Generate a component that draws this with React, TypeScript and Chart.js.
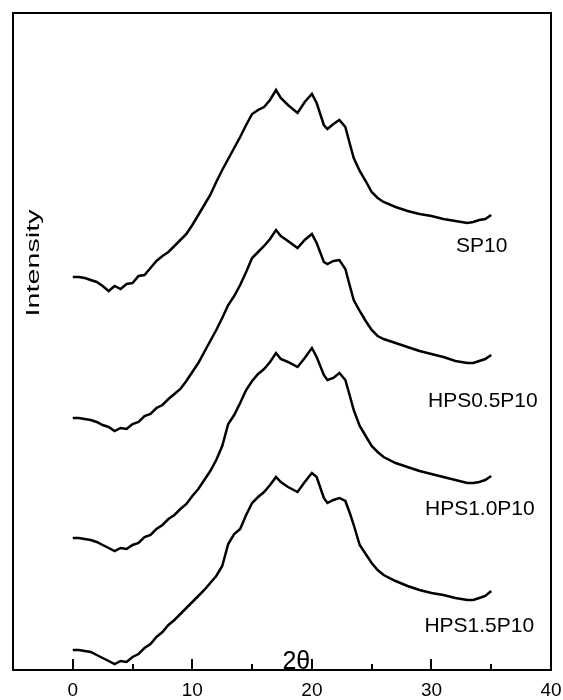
import React, { useEffect, useRef } from 'react';
import { Chart, registerables } from 'chart.js';

Chart.register(...registerables);

// 2θ positions (degrees) at which the patterns were read
const TWO_THETA = [
  0, 0.5, 1, 1.5, 2, 2.5, 3, 3.5, 4, 4.5,
  5, 5.5, 6, 6.5, 7, 7.5, 8, 8.5, 9, 9.5,
  10, 10.5, 11, 11.5, 12, 12.5, 13, 13.5, 14, 14.5,
  15, 15.5, 16, 16.5, 17, 17.4, 18, 18.8, 19.4, 20,
  20.4, 21, 21.3, 21.8, 22.3, 22.8, 23.2, 23.5, 24, 24.5,
  25, 25.5, 26, 27, 28, 29, 30, 31, 32, 33,
  33.5, 34, 34.5, 35,
];

// stacked intensities (arbitrary units, vertical offsets included)
const SP10 = [
  393, 393, 392, 390, 388, 384, 379, 384, 381, 386,
  387, 394, 395, 402, 409, 414, 418, 424, 430, 436,
  445, 455, 465, 475, 488, 500, 511, 522, 533, 545,
  556, 560, 563, 570, 580, 572, 565, 557, 568, 576,
  567, 545, 541, 546, 550, 543, 525, 512, 499, 489,
  478, 472, 468, 463, 459, 456, 454, 451, 449, 447,
  448, 450, 451, 455,
];
const HPS05P10 = [
  252, 252, 251, 250, 248, 245, 243, 239, 242, 241,
  246, 248, 254, 256, 262, 265, 271, 276, 281, 289,
  298, 307, 318, 329, 340, 352, 365, 374, 385, 398,
  412, 418, 424, 431, 440, 434, 429, 422, 430, 436,
  427, 408, 406, 409, 410, 401, 383, 370, 359, 349,
  340, 334, 331, 327, 323, 319, 316, 313, 309, 307,
  307, 309, 311, 315,
];
const HPS10P10 = [
  132, 132, 131, 130, 128, 125, 122, 119, 122, 121,
  125, 127, 133, 135, 141, 145, 151, 155, 161, 166,
  174, 181, 190, 199, 210, 224, 246, 255, 267, 280,
  289, 296, 301, 308, 317, 311, 308, 303, 312, 322,
  313, 295, 290, 292, 297, 290, 273, 260, 244, 234,
  224, 218, 213, 207, 203, 199, 196, 193, 190, 187,
  187, 188, 190, 194,
];
const HPS15P10 = [
  20, 20, 19, 18, 15, 12, 9, 6, 9, 8,
  13, 16, 22, 26, 33, 38, 45, 50, 56, 62,
  68, 74, 80, 87, 94, 104, 126, 136, 141, 155,
  167, 173, 178, 185, 193, 188, 183, 178, 188, 197,
  193, 172, 167, 170, 172, 169, 156, 145, 125, 116,
  107, 100, 95, 89, 84, 80, 77, 75, 72, 70,
  70, 72, 74, 79,
];

const SERIES_NAMES = ['SP10', 'HPS0.5P10', 'HPS1.0P10', 'HPS1.5P10'];
const SERIES_VALUES = [SP10, HPS05P10, HPS10P10, HPS15P10];

// label anchor points in data units
const LABEL_X = [34.2, 34.3, 34.05, 34.0];
const LABEL_Y = [424, 269, 161, 44];

const X_MIN = -5;
const X_MAX = 40;
const Y_MIN = 0;
const Y_MAX = 657;
const MAJOR_TICKS = [0, 10, 20, 30, 40];
const MINOR_TICKS = [5, 15, 25, 35];
const TICK_LABELS = ['0', '10', '20', '30', '40'];

const X_TITLE = '2θ';
const Y_TITLE = 'Intensity';

const FONT = '"Liberation Sans", Arial, Helvetica, sans-serif';

const decorPlugin = {
  id: 'decor',
  afterDraw(chart: any) {
    const { ctx, chartArea: a, scales } = chart;
    const x = scales.x;
    const y = scales.y;
    ctx.save();
    ctx.strokeStyle = '#000';
    ctx.lineWidth = 2;
    ctx.strokeRect(a.left, a.top, a.right - a.left, a.bottom - a.top);

    ctx.beginPath();
    MAJOR_TICKS.forEach((v) => {
      const px = Math.round(x.getPixelForValue(v));
      ctx.moveTo(px, a.bottom);
      ctx.lineTo(px, a.bottom - 11);
    });
    MINOR_TICKS.forEach((v) => {
      const px = Math.round(x.getPixelForValue(v));
      ctx.moveTo(px, a.bottom);
      ctx.lineTo(px, a.bottom - 6);
    });
    ctx.stroke();

    ctx.fillStyle = '#000';
    ctx.textAlign = 'center';
    ctx.textBaseline = 'middle';
    ctx.font = `19px ${FONT}`;
    MAJOR_TICKS.forEach((v, i) => {
      ctx.fillText(TICK_LABELS[i], x.getPixelForValue(v), a.bottom + 21);
    });

    ctx.font = `21px ${FONT}`;
    SERIES_NAMES.forEach((n, i) => {
      ctx.fillText(n, x.getPixelForValue(LABEL_X[i]), y.getPixelForValue(LABEL_Y[i]));
    });

    ctx.font = `25px ${FONT}`;
    ctx.textBaseline = 'alphabetic';
    ctx.fillText(X_TITLE, x.getPixelForValue(18.7), a.bottom - 1);

    ctx.font = `19px ${FONT}`;
    const w = ctx.measureText(Y_TITLE).width;
    const target = 107;
    ctx.translate(a.left + 26, y.getPixelForValue(407));
    ctx.rotate(-Math.PI / 2);
    ctx.scale(target / w, 1);
    ctx.textAlign = 'center';
    ctx.fillText(Y_TITLE, 0, 0);
    ctx.restore();
  },
};

export default function App() {
  const ref = useRef<HTMLCanvasElement | null>(null);
  useEffect(() => {
    if (!ref.current) return;
    const chart = new Chart(ref.current, {
      type: 'line',
      data: {
        datasets: SERIES_VALUES.map((vals, i) => ({
          label: SERIES_NAMES[i],
          data: vals.map((v, j) => ({ x: TWO_THETA[j], y: v })),
          borderColor: '#000',
          borderWidth: 2.5,
          pointRadius: 0,
          tension: 0,
          fill: false,
        })),
      },
      options: {
        responsive: false,
        animation: false,
        events: [],
        layout: { padding: { left: 13, right: 12, top: 13, bottom: 30 } },
        plugins: { legend: { display: false }, tooltip: { enabled: false }, title: { display: false } },
        scales: {
          x: {
            type: 'linear',
            min: X_MIN,
            max: X_MAX,
            display: false,
          },
          y: {
            type: 'linear',
            min: Y_MIN,
            max: Y_MAX,
            display: false,
          },
        },
      },
      plugins: [decorPlugin],
    });
    return () => chart.destroy();
  }, []);
  return (
    <div style={{ position: 'absolute', left: 0, top: 0, width: 563, height: 700, background: '#fff' }}>
      <canvas ref={ref} width={563} height={700} style={{ width: 563, height: 700, display: 'block' }} />
    </div>
  );
}
